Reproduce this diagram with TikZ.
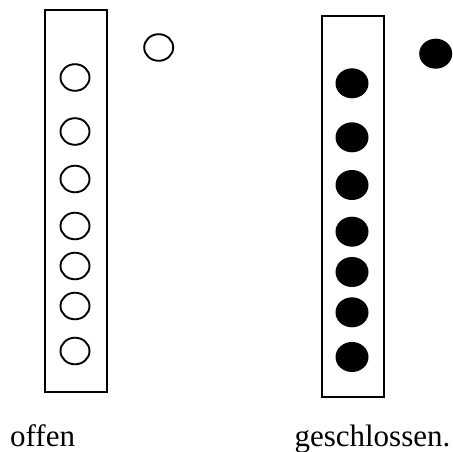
\documentclass[tikz,border=0pt]{standalone}
\usepackage{fontspec}
\setmainfont{Liberation Serif}
\usepackage{tikz}

\begin{document}
\begin{tikzpicture}[x=1pt,y=-1pt]
        \useasboundingbox (0,0) rectangle (453,452);

        % open flute (left)
        \draw[line width=1.7pt] (45,10.3) rectangle (107.3,391.7);
        \foreach \y in {77.5,131.5,179,226,266,306,351} {
          \draw[line width=1.9pt] (75,\y) ellipse (14.5 and 13.3);
        }
        \draw[line width=1.9pt] (158.7,47.5) ellipse (14.5 and 13.3);

        % closed flute (right)
        \draw[line width=1.7pt] (322,15.7) rectangle (383.7,397.3);
        \foreach \y in {83.3,137.3,185,231.7,272,312.3,357} {
          \fill (352,\y) ellipse (16.5 and 15);
        }
        \fill (435.7,53.7) ellipse (16.5 and 15);

        \node[anchor=base west,inner sep=0pt,font=\fontsize{31}{36}\selectfont] (offen) at (10,446) {offen};
        \node[anchor=base west,inner sep=0pt,font=\fontsize{31}{36}\selectfont] (geschl) at (294.3,446) {geschlossen.};
\end{tikzpicture}
\end{document}
